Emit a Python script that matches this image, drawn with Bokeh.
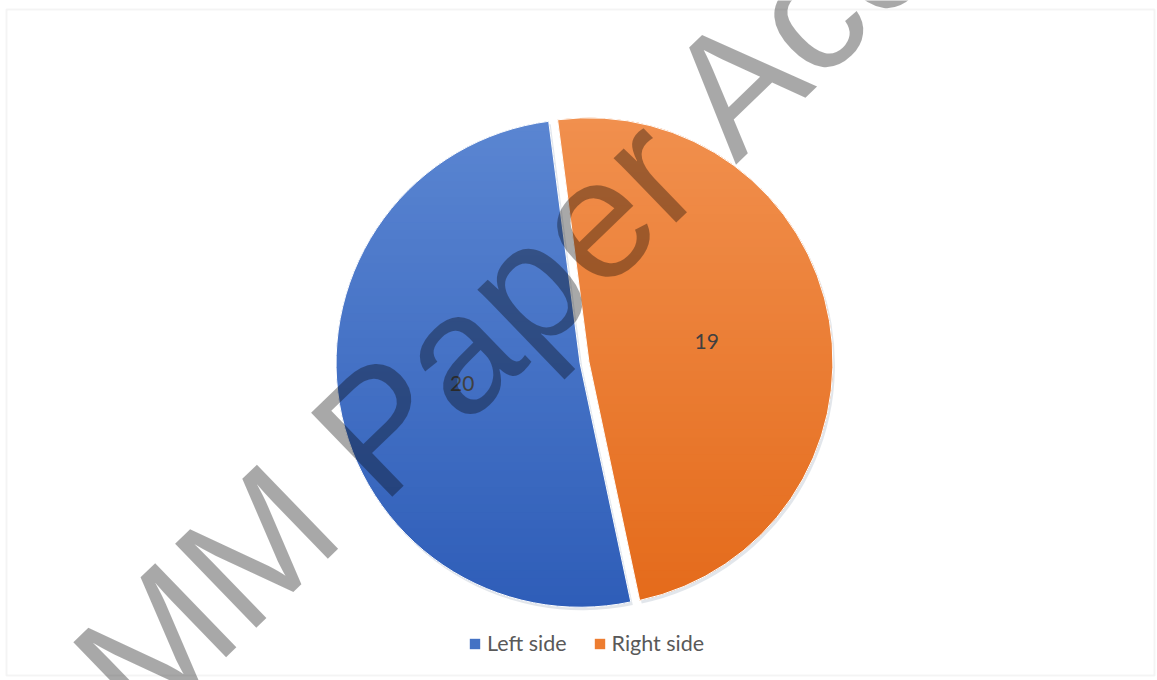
import math
import numpy as np
from bokeh.plotting import figure
from bokeh.models import ColumnDataSource, Range1d, BoxAnnotation
from bokeh.core.properties import value
from bokeh.embed import file_html
from bokeh.resources import INLINE

# ---- data ----
categories = ["Left side", "Right side"]
counts = [20, 19]
colors = ["#4472C4", "#ED7D31"]
grad_top = ["#5B86D2", "#F1904E"]
grad_bottom = ["#2E5DB8", "#E46A1A"]
watermark = "MM Paper Accepted"

# ---- layout (pixels; data space is 1:1 with screen) ----
W, H = 1157, 680
cx, cy = 584.0, 318.0
R = 244.0
explode = 4.5
first_angle = 168.0  # compass degrees (clockwise from 12 o'clock)

total = float(sum(counts))
xs, ys, starts, ends, lx, ly, sx, sy, arcs = [], [], [], [], [], [], [], [], []
acc = first_angle
for v in counts:
    span = 360.0 * v / total
    a0, a1 = acc, acc + span
    mid = math.radians((a0 + a1) / 2.0)
    ox, oy = cx + explode * math.sin(mid), cy + explode * math.cos(mid)
    xs.append(ox); ys.append(oy)
    sx.append(ox + 2); sy.append(oy - 3)
    starts.append(math.radians(90 - a0))
    ends.append(math.radians(90 - a1))
    lx.append(ox + 0.49 * R * math.sin(mid))
    ly.append(oy + 0.49 * R * math.cos(mid))
    arcs.append((ox, oy, a0, a1))
    acc = a1

src = ColumnDataSource(dict(x=xs, y=ys, sx=sx, sy=sy, start=starts, end=ends,
                            color=colors, label=categories,
                            lx=lx, ly=ly, txt=[str(c) for c in counts]))


def hexrgb(h):
    h = h.lstrip("#")
    return [int(h[i:i + 2], 16) for i in (0, 2, 4)]


def mix(c1, c2, f):
    a, b = hexrgb(c1), hexrgb(c2)
    return "#%02x%02x%02x" % tuple(int(round(a[i] + (b[i] - a[i]) * f)) for i in range(3))


def clip(poly, yv, keep_above):
    out = []
    n = len(poly)
    for i in range(n):
        p1, p2 = poly[i], poly[(i + 1) % n]
        in1 = (p1[1] >= yv) if keep_above else (p1[1] <= yv)
        in2 = (p2[1] >= yv) if keep_above else (p2[1] <= yv)
        if in1:
            out.append(p1)
        if in1 != in2:
            t = (yv - p1[1]) / (p2[1] - p1[1])
            out.append((p1[0] + t * (p2[0] - p1[0]), yv))
    return out


# gradient bands for each slice (vertical linear gradient, light top -> dark bottom)
band_x, band_y, band_c = [], [], []
nb = 60
ytop, ybot = cy + R + explode, cy - R - explode
edges = np.linspace(ybot, ytop, nb + 1)
for k, (ox, oy, a0, a1) in enumerate(arcs):
    t = np.radians(np.linspace(a0, a1, 240))
    poly = [(ox, oy)] + list(zip(ox + R * np.sin(t), oy + R * np.cos(t)))
    for j in range(nb):
        lo, hi = edges[j], edges[j + 1]
        piece = clip(clip(poly, lo - 0.6, True), hi + 0.6, False)
        if len(piece) < 3:
            continue
        f = (ytop - (lo + hi) / 2.0) / (ytop - ybot)
        band_x.append([q[0] for q in piece])
        band_y.append([q[1] for q in piece])
        band_c.append(mix(grad_top[k], grad_bottom[k], f))

p = figure(width=W, height=H, output_backend="svg", toolbar_location=None,
           x_range=Range1d(0, W), y_range=Range1d(0, H), min_border=0,
           match_aspect=False)
p.axis.visible = False
p.grid.visible = False
p.outline_line_color = None
p.background_fill_color = "white"
p.border_fill_color = "white"

# chart-area border
p.add_layout(BoxAnnotation(left=6, right=1154, bottom=5, top=671,
                           fill_alpha=0, line_color="#d9d9d9", line_width=2,
                           level="underlay"))

# soft shadow
p.wedge(x="sx", y="sy", radius=R, start_angle="start", end_angle="end",
        direction="clock", fill_color="#8a9aae", fill_alpha=0.25,
        line_color=None, source=src)
# slices (base fill, also feeds the legend)
p.wedge(x="x", y="y", radius=R, start_angle="start", end_angle="end",
        direction="clock", fill_color="color", line_color=None,
        legend_field="label", source=src)
# gradient shading of the slices
p.patches(xs=band_x, ys=band_y, fill_color=band_c, line_color=None)
# thin white slice edges
p.wedge(x="x", y="y", radius=R, start_angle="start", end_angle="end",
        direction="clock", fill_alpha=0, line_color="white", line_width=1,
        source=src)

# data labels
p.text(x="lx", y="ly", text="txt", source=src, text_align="center",
       text_baseline="middle", text_font=value("Lato"),
       text_font_size="21px", text_color="#404040")

# watermark overlay
p.text(x=[103], y=[-13], text=[watermark], angle=44, angle_units="deg",
       text_font=value("Liberation Sans"), text_font_size="170px",
       text_color="black", text_alpha=0.34, text_align="left",
       text_baseline="alphabetic")

lg = p.legend[0]
lg.location = (468, 24)
lg.orientation = "horizontal"
lg.border_line_alpha = 0
lg.background_fill_alpha = 0
lg.glyph_width = 13
lg.glyph_height = 13
lg.label_standoff = 6
lg.spacing = 26
lg.padding = 0
lg.margin = 0
lg.label_text_font = "Lato"
lg.label_text_font_size = "21.5px"
lg.label_text_color = "#595959"

open("out.html", "w").write(file_html(p, INLINE))
